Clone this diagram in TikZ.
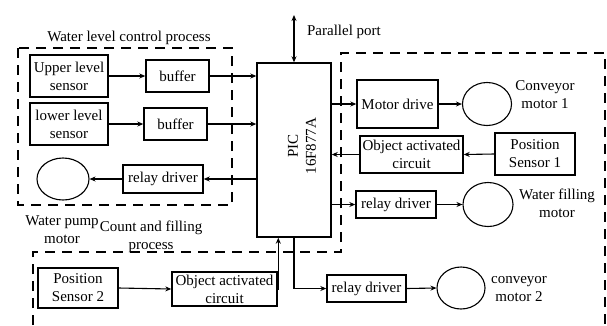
\documentclass[tikz,border=0pt]{standalone}
\usepackage{fontspec}
\setmainfont{Liberation Serif}
\usetikzlibrary{arrows.meta,shapes.geometric,calc}
\begin{document}
\begin{tikzpicture}[x=1pt,y=-1pt,
  txt/.style={font=\fontsize{15}{18}\selectfont, align=center, inner sep=0pt},
  blk/.style={txt, draw, line width=1.4pt, rectangle},
  mot/.style={draw, ellipse, line width=1.1pt, inner sep=0pt},
  arr/.style={line width=1.1pt, -{Stealth[length=6pt,width=5pt]}},
  dsh/.style={line width=1.4pt, dash pattern=on 10pt off 7pt}]
\useasboundingbox (0,0) rectangle (607,325);
\fill[white] (0,0) rectangle (607,325);

% dashed regions
\draw[dsh] (18,48) rectangle (232,205);
\draw[dsh] (33,325) -- (33,252) -- (341,252) -- (341,53) -- (605,53) -- (605,325);

% PIC
\node[draw, line width=1.4pt, minimum width=74pt, minimum height=174pt, inner sep=0pt] (pic) at (294,150) {};
\node[txt, rotate=90] (pictxt) at (302,146) {PIC\\16F877A};

% left group
\node[blk, minimum width=78pt, minimum height=42pt] (ups) at (69,76) {Upper level\\sensor};
\node[blk, minimum width=78pt, minimum height=42pt] (lows) at (69,124) {lower level\\sensor};
\node[blk, minimum width=63pt, minimum height=32pt] (buf1) at (177.5,76) {buffer};
\node[blk, minimum width=63pt, minimum height=32pt] (buf2) at (175.5,124) {buffer};
\node[blk, minimum width=80pt, minimum height=28pt] (relL) at (163,179) {relay driver};
\node[mot, minimum width=52pt, minimum height=42pt] (pump) at (63,179) {};

% right group
\node[blk, minimum width=81pt, minimum height=48pt] (mdrv) at (397.5,104) {Motor drive};
\node[mot, minimum width=49pt, minimum height=43pt] (conv1) at (487,104) {};
\node[blk, minimum width=103pt, minimum height=37pt] (obj1) at (411.5,154.5) {Object activated\\circuit};
\node[blk, minimum width=80pt, minimum height=42pt] (pos1) at (535,154) {Position\\Sensor 1};
\node[blk, minimum width=80pt, minimum height=27pt] (relR1) at (396,204.5) {relay driver};
\node[mot, minimum width=50pt, minimum height=44pt] (fill) at (488,204.5) {};

% bottom group
\node[blk, minimum width=80pt, minimum height=40pt] (pos2) at (78,288) {Position\\Sensor 2};
\node[blk, minimum width=105pt, minimum height=34pt] (obj2) at (224.5,289) {Object activated\\circuit};
\node[blk, minimum width=79pt, minimum height=27pt] (relR2) at (366.5,288.5) {relay driver};
\node[mot, minimum width=48pt, minimum height=42pt] (conv2) at (461,288) {};

% labels
\node[txt] (t1) at (129,38) {Water level control process};
\node[txt] (t2) at (344,32) {Parallel port};
\node[txt] (t3) at (545,95) {Conveyor\\motor 1};
\node[txt] (t4) at (557,203) {Water filling\\motor};
\node[txt] (t5) at (519,289) {conveyor\\motor 2};
\node[txt] (t6) at (62,230) {Water pump\\motor};
\node[txt] (t7) at (151,237) {Count and filling\\process};

% parallel port
\coordinate (pp) at (294,15);
\draw[line width=1.1pt, {Stealth[length=6pt,width=5pt]}-{Stealth[length=6pt,width=5pt]}] (pp) -- (pic.north);

% connectors
\draw[arr] (ups.east) -- (buf1.west);
\draw[arr] (buf1.east) -- (buf1.east -| pic.west);
\draw[arr] (lows.east) -- (buf2.west);
\draw[arr] (buf2.east) -- (buf2.east -| pic.west);
\draw[arr] (relL.east -| pic.west) -- (relL.east);
\draw[arr] (relL.west) -- (pump.east);

\draw[arr] (mdrv.west -| pic.east) -- (mdrv.west);
\draw[arr] (mdrv.east) -- (conv1.west);
\draw[arr] (pos1.west) -- (obj1.east);
\draw[arr] (obj1.west) -- (obj1.west -| pic.east);
\draw[arr] (relR1.west -| pic.east) -- (relR1.west);
\draw[arr] (relR1.east) -- (fill.west);

\draw[arr] (pos2.east) -- (obj2.west);
\draw[arr] (obj2.east) -| ([xshift=22pt]pic.south west);
\draw[arr] (pic.south) |- (relR2.west);
\draw[arr] (relR2.east) -- (conv2.west);
\end{tikzpicture}
\end{document}
